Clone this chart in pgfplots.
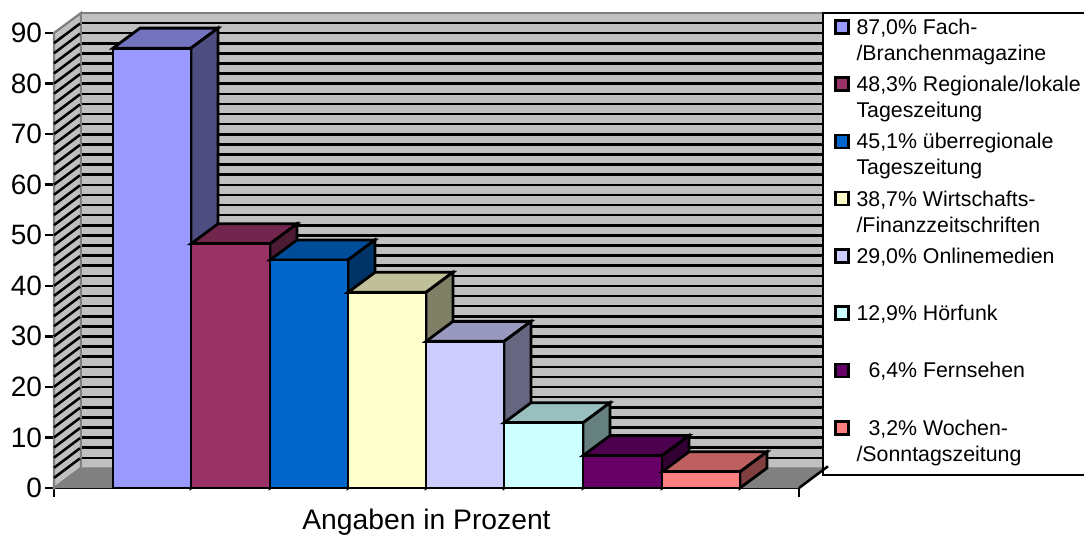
\documentclass[border=0pt]{standalone}
\usepackage{pgfplots}
\pgfplotsset{compat=1.18}
\usepackage{fontspec}
\setmainfont{Liberation Sans}
\definecolor{wall}{HTML}{C0C0C0}
\definecolor{wedge}{HTML}{808080}
\definecolor{fa}{RGB}{153,153,255}\definecolor{ta}{RGB}{115,115,191}\definecolor{sa}{RGB}{77,77,128}
\definecolor{fb}{RGB}{153,51,102}\definecolor{tb}{RGB}{115,38,77}\definecolor{sb}{RGB}{77,26,51}
\definecolor{fc}{RGB}{0,102,204}\definecolor{tc}{RGB}{0,77,153}\definecolor{sc}{RGB}{0,51,102}
\definecolor{fd}{RGB}{255,255,204}\definecolor{td}{RGB}{191,191,153}\definecolor{sd}{RGB}{128,128,102}
\definecolor{fe}{RGB}{204,204,255}\definecolor{te}{RGB}{153,153,191}\definecolor{se}{RGB}{102,102,128}
\definecolor{ff}{RGB}{204,255,255}\definecolor{tf}{RGB}{153,191,191}\definecolor{sf}{RGB}{102,128,128}
\definecolor{fg}{RGB}{102,0,102}\definecolor{tg}{RGB}{77,0,77}\definecolor{sg}{RGB}{51,0,51}
\definecolor{fh}{RGB}{255,128,128}\definecolor{th}{RGB}{191,96,96}\definecolor{sh}{RGB}{128,64,64}
\newcommand{\legtext}[2]{\rule{0pt}{12.9pt}\parbox[t]{200pt}{\fontsize{16pt}{19.5pt}\selectfont\strut #1\\#2}}
\newcommand{\legone}[1]{\rule{0pt}{12.9pt}\parbox[t]{200pt}{\fontsize{16pt}{19.5pt}\selectfont\strut #1}}
\newcommand{\legbox}[1]{\addlegendimage{legend image code/.code={\draw[draw=black,line width=1.9pt,fill=#1] (0pt,-5.4pt) rectangle (9.75pt,4.35pt);}}}
\pgfplotsset{
  face/.style={draw=black,line width=2.1pt,fill=#1,line join=miter,forget plot}
}
\begin{document}
\begin{tikzpicture}
\begin{axis}[
  at={(0,0)}, anchor=origin,
  scale only axis, width=558.75pt, height=341.25pt,
  xmin=54, xmax=799, ymin=0, ymax=90,
  clip=false,
  axis x line*=bottom, axis y line*=left,
  axis line style={-,line width=2.1pt,black},
  tick align=outside,
  major tick length=6.75pt,
  tick style={black,line width=1.9pt},
  xtick={54,799}, xticklabels={,},
  ytick={0,10,...,90},
  /pgf/number format/assume math mode=true,
  tick label style={font=\fontsize{21pt}{22pt}\selectfont},
  yticklabel style={inner xsep=1pt,xshift=-1pt},
  xlabel={Angaben in Prozent},
  xlabel style={font=\fontsize{21.2pt}{23pt}\selectfont,at={(axis description cs:0.5,0)},anchor=north,yshift=-12.5pt},
  legend style={at={(axis cs:834,93.35)},anchor=north west,draw=none,fill=none,inner sep=0pt,outer sep=0pt,row sep=27.8pt,
    nodes={inner sep=0pt,outer sep=0pt},
    /tikz/every odd column/.style={column sep=5.25pt}},
  legend cell align=left,
]
% walls and floor
\fill[wall,draw=wedge,line width=1.7pt] (axis cs:54,0) -- (axis cs:81,3.96) -- (axis cs:81,93.96) -- (axis cs:54,90) -- cycle;
\fill[wall] (axis cs:81,3.96) rectangle (axis cs:823,93.96);
\draw[wedge,line width=1.9pt] (axis cs:81,3.96) -- (axis cs:81,93.96) -- (axis cs:823,93.96);
\fill[wedge] (axis cs:54,0) -- (axis cs:799,0) -- (axis cs:825,3.96) -- (axis cs:81,3.96) -- cycle;
\draw[wedge,line width=1pt] (axis cs:54,0) -- (axis cs:81,3.96) -- (axis cs:823,3.96);
\pgfplotsinvokeforeach{2,4,...,88}{
  \draw[black,line width=1.9pt] (axis cs:54,#1) -- (axis cs:80,#1+3.86);
  \draw[black,line width=1.9pt] (axis cs:82,#1+3.96) -- (axis cs:823,#1+3.96);
}
\draw[black,line width=1.9pt] (axis cs:799,0) -- (axis cs:828,4.3);
% bars
\addplot[face=ta] coordinates {(113,87)(191,87)(218,90.96)(140,90.96)} --cycle;
\addplot[face=sa] coordinates {(191,0)(218,3.96)(218,90.96)(191,87)} --cycle;
\addplot[face=fa] coordinates {(113,0)(191,0)(191,87)(113,87)} --cycle;

\addplot[face=tb] coordinates {(191,48.3)(270,48.3)(297,52.26)(218,52.26)} --cycle;
\addplot[face=sb] coordinates {(270,0)(297,3.96)(297,52.26)(270,48.3)} --cycle;
\addplot[face=fb] coordinates {(191,0)(270,0)(270,48.3)(191,48.3)} --cycle;

\addplot[face=tc] coordinates {(270,45.1)(348,45.1)(375,49.06)(297,49.06)} --cycle;
\addplot[face=sc] coordinates {(348,0)(375,3.96)(375,49.06)(348,45.1)} --cycle;
\addplot[face=fc] coordinates {(270,0)(348,0)(348,45.1)(270,45.1)} --cycle;

\addplot[face=td] coordinates {(348,38.7)(426,38.7)(453,42.66)(375,42.66)} --cycle;
\addplot[face=sd] coordinates {(426,0)(453,3.96)(453,42.66)(426,38.7)} --cycle;
\addplot[face=fd] coordinates {(348,0)(426,0)(426,38.7)(348,38.7)} --cycle;

\addplot[face=te] coordinates {(426,29)(504,29)(531,32.96)(453,32.96)} --cycle;
\addplot[face=se] coordinates {(504,0)(531,3.96)(531,32.96)(504,29)} --cycle;
\addplot[face=fe] coordinates {(426,0)(504,0)(504,29)(426,29)} --cycle;

\addplot[face=tf] coordinates {(504,12.9)(583,12.9)(610,16.86)(531,16.86)} --cycle;
\addplot[face=sf] coordinates {(583,0)(610,3.96)(610,16.86)(583,12.9)} --cycle;
\addplot[face=ff] coordinates {(504,0)(583,0)(583,12.9)(504,12.9)} --cycle;

\addplot[face=tg] coordinates {(583,6.4)(662,6.4)(689,10.36)(610,10.36)} --cycle;
\addplot[face=sg] coordinates {(662,0)(689,3.96)(689,10.36)(662,6.4)} --cycle;
\addplot[face=fg] coordinates {(583,0)(662,0)(662,6.4)(583,6.4)} --cycle;

\addplot[face=th] coordinates {(662,3.2)(740,3.2)(767,7.16)(689,7.16)} --cycle;
\addplot[face=sh] coordinates {(740,0)(767,3.96)(767,7.16)(740,3.2)} --cycle;
\addplot[face=fh] coordinates {(662,0)(740,0)(740,3.2)(662,3.2)} --cycle;

% legend frame
\draw[black,line width=2.1pt] (axis cs:1100,93.95) -- (axis cs:823,93.95) -- (axis cs:823,2.57) -- (axis cs:1100,2.57);
% legend
\legbox{fa}
\addlegendentry{\legtext{87,0\% Fach-}{/Branchenmagazine}}
\legbox{fb}
\addlegendentry{\legtext{48,3\% Regionale/lokale}{Tageszeitung}}
\legbox{fc}
\addlegendentry{\legtext{45,1\% überregionale}{Tageszeitung}}
\legbox{fd}
\addlegendentry{\legtext{38,7\% Wirtschafts-}{/Finanzzeitschriften}}
\legbox{fe}
\addlegendentry{\legone{29,0\% Onlinemedien}}
\legbox{ff}
\addlegendentry{\legone{12,9\% Hörfunk}}
\legbox{fg}
\addlegendentry{\legone{\hspace*{9pt}6,4\% Fernsehen}}
\legbox{fh}
\addlegendentry{\legtext{\hspace*{9pt}3,2\% Wochen-}{/Sonntagszeitung}}
\end{axis}
\pgfresetboundingbox
\path[use as bounding box] (-40.5pt,-36pt) rectangle (772.5pt,366pt);
\end{tikzpicture}
\end{document}
